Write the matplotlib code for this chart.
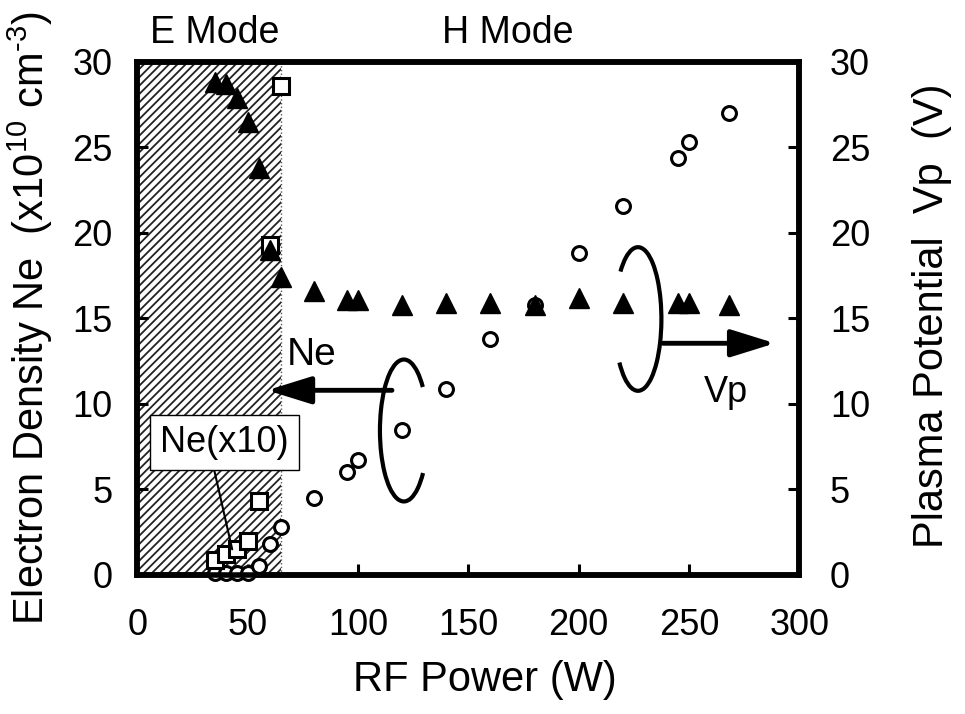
import matplotlib
matplotlib.use('Agg')
import matplotlib.pyplot as plt
from matplotlib.patches import Arc

plt.rcParams['font.family'] = ['Liberation Sans', 'DejaVu Sans']
plt.rcParams['mathtext.fontset'] = 'custom'
plt.rcParams['mathtext.rm'] = 'Liberation Sans'
plt.rcParams['mathtext.it'] = 'Liberation Sans:italic'
plt.rcParams['hatch.linewidth'] = 1.3

# RF power (W) and measured values
power = [35, 40, 45, 50, 55, 60, 65, 80, 95, 100, 120, 140, 160, 180, 200, 220, 245, 250, 268]
ne = [0.1, 0.1, 0.1, 0.1, 0.5, 1.8, 2.8, 4.5, 6.0, 6.7, 8.5, 10.9, 13.8, 15.8, 18.85, 21.6, 24.4, 25.3, 27.0]
vp = [28.8, 28.7, 27.9, 26.5, 23.8, 19.0, 17.4, 16.6, 16.1, 16.1, 15.8, 15.9, 15.9, 15.8, 16.2, 15.9, 15.9, 15.9, 15.8]

power_low = [35, 40, 45, 50, 55, 60, 65]
ne_x10 = [0.9, 1.2, 1.5, 2.0, 4.3, 19.3, 28.6]

e_mode_end = 65
xticks = [0, 50, 100, 150, 200, 250, 300]
yticks = [0, 5, 10, 15, 20, 25, 30]

fig = plt.figure(figsize=(9.65, 7.14), dpi=100)
ax = fig.add_axes([0.1423, 0.1947, 0.686, 0.7185])

# E mode region
ax.axvspan(0, e_mode_end, facecolor='white', edgecolor='#222222', hatch='////', lw=0, zorder=0)
ax.axvline(e_mode_end, color='#555555', lw=1, ls=':', zorder=0)

ax.plot(power, ne, 'o', ms=10, mfc='white', mec='black', mew=2.2, clip_on=False, zorder=3)
ax.plot(power_low, ne_x10, 's', ms=11, mfc='white', mec='black', mew=2.2, clip_on=False, zorder=3)

ax2 = ax.twinx()
ax2.plot(power, vp, '^', ms=14, color='black', clip_on=False)

ax.set_xlim(0, 300)
ax.set_ylim(0, 30)
ax2.set_ylim(0, 30)
ax.set_xticks(xticks)
ax.set_yticks(yticks)
ax2.set_yticks(yticks)

for a in (ax, ax2):
    for s in a.spines.values():
        s.set_linewidth(4)
ax.tick_params(axis='x', direction='in', length=8, width=2.2, labelsize=26, pad=24, top=False)
ax.tick_params(axis='y', direction='in', length=8, width=2.2, labelsize=26, pad=18, right=False)
ax2.tick_params(axis='y', direction='in', length=8, width=2.2, labelsize=26, pad=22)

ax.set_xlabel('RF Power (W)', fontsize=30)
ax.xaxis.set_label_coords(0.5245, -0.166)
ax.set_ylabel('Electron Density Ne  (x10$^{10}$ cm$^{\u20103}$)', fontsize=30)
ax.yaxis.set_label_coords(-0.125, 0.5)
ax2.set_ylabel('Plasma Potential  Vp  (V)', fontsize=30)
ax2.yaxis.set_label_coords(1.17, 0.506)

ax.text(35, 31.1, 'E Mode', ha='center', va='baseline', fontsize=27)
ax.text(168, 31.1, 'H Mode', ha='center', va='baseline', fontsize=27)

# Ne arrow to the left axis
ax.add_patch(Arc((120.8, 8.45), 21.7, 8.3, theta1=16.5, theta2=344, lw=3, color='black'))
ax.annotate('', xy=(58.8, 10.8), xytext=(115.4, 10.8),
            arrowprops=dict(arrowstyle='-|>,head_length=1.35,head_width=0.42', lw=3.5,
                            color='black', mutation_scale=20, shrinkA=0, shrinkB=0))
ax.text(67.8, 12.28, 'Ne', ha='left', va='baseline', fontsize=28)

# Vp arrow to the right axis
ax.add_patch(Arc((226.9, 14.97), 21.2, 8.4, theta1=-163.2, theta2=160.8, lw=3, color='black'))
ax.annotate('', xy=(289.0, 13.55), xytext=(238.2, 13.55),
            arrowprops=dict(arrowstyle='-|>,head_length=1.35,head_width=0.42', lw=3.5,
                            color='black', mutation_scale=20, shrinkA=0, shrinkB=0))
ax.text(266.7, 10.13, 'Vp', ha='center', va='baseline', fontsize=26)

ax.annotate('Ne(x10)', xy=(43, 1.5), xytext=(39.6, 7.77), ha='center', va='center', fontsize=26,
            bbox=dict(boxstyle='square,pad=0.28', fc='white', ec='black', lw=1),
            arrowprops=dict(arrowstyle='-', lw=1.5, color='black', relpos=(0.4, 0),
                            shrinkA=0, shrinkB=0), zorder=4)

fig.savefig('out.png', dpi=100)
